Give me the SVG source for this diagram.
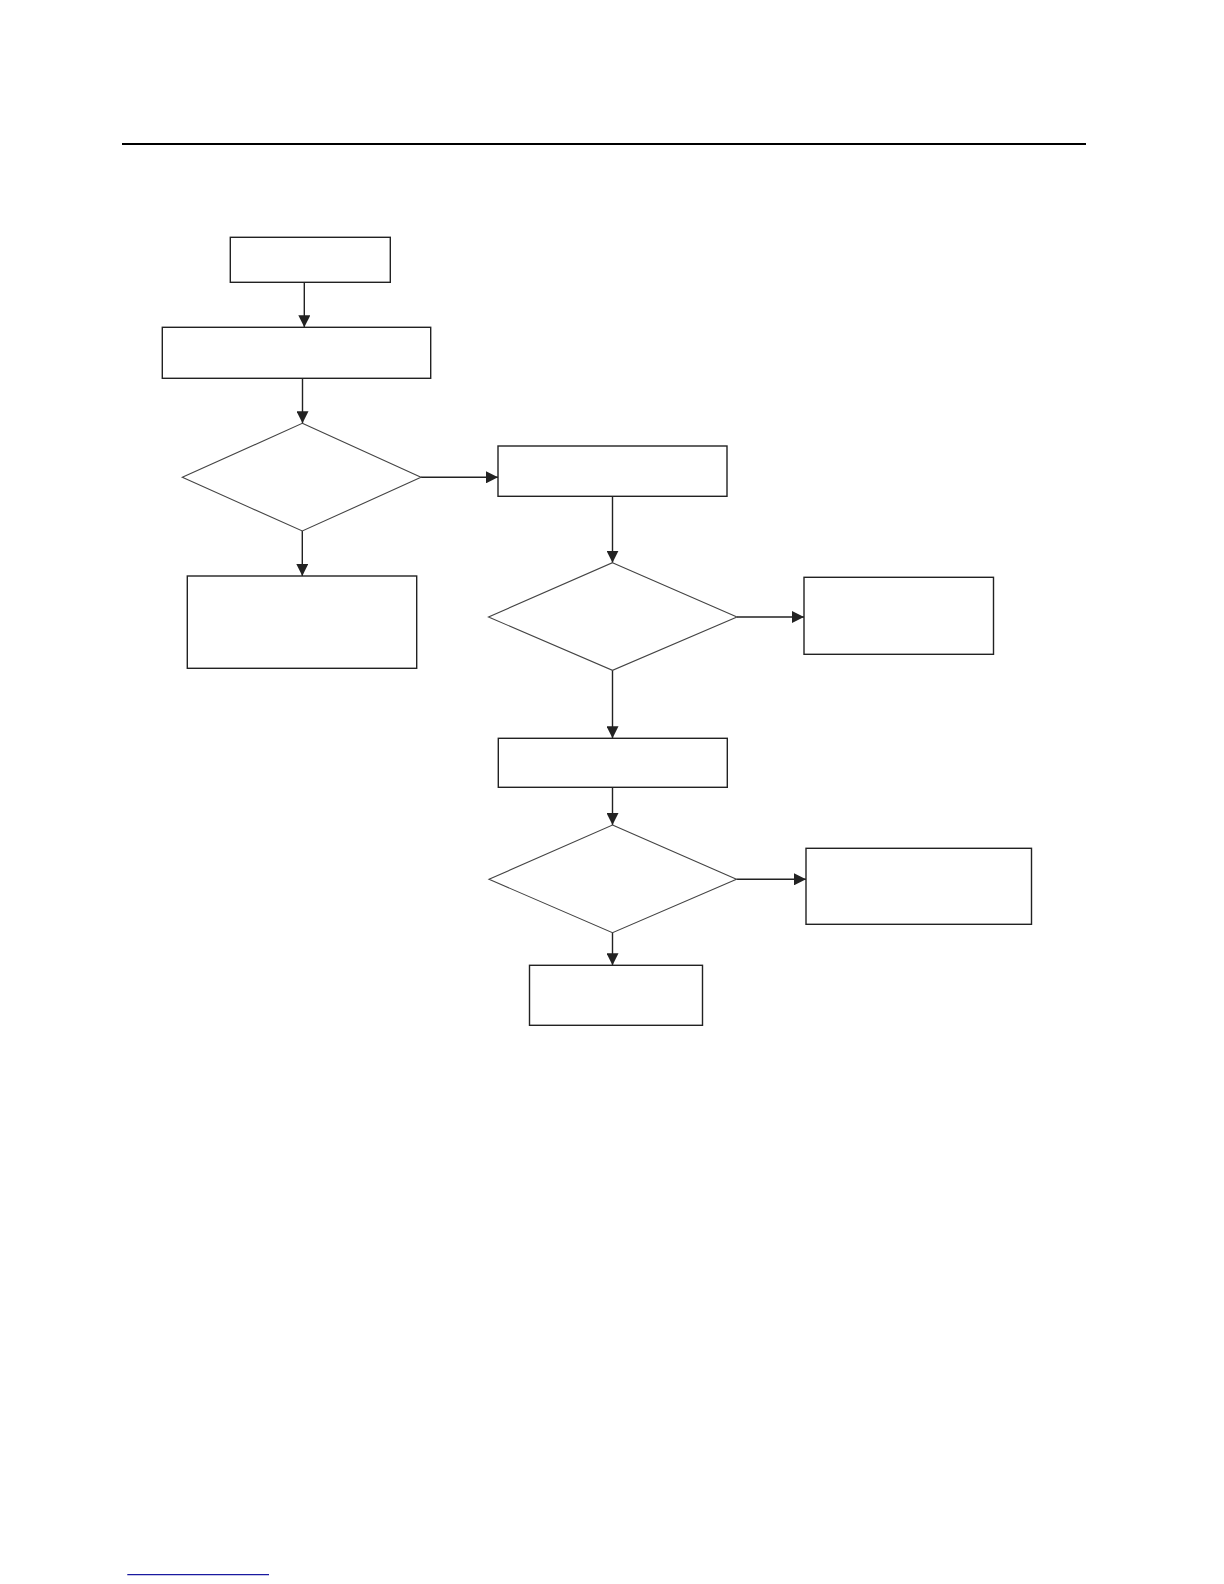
<svg xmlns="http://www.w3.org/2000/svg" width="1224" height="1584" viewBox="0 0 1224 1584">
<style>
.box{fill:#fff;stroke:#222;stroke-width:1.4}
.dia{fill:#fff;stroke:#444;stroke-width:1.1}
.con{stroke:#222;stroke-width:1.4;fill:none;marker-end:url(#ah)}
</style>
<defs>
<marker id="ah" markerUnits="userSpaceOnUse" markerWidth="13" markerHeight="12" refX="12" refY="6" orient="auto">
<path d="M0,0 L12,6 L0,12 Z" fill="#222"/>
</marker>
</defs>
<rect width="1224" height="1584" fill="#fff"/>
<line x1="122" y1="144" x2="1086" y2="144" stroke="#000" stroke-width="2.2"/>
<g id="connectors">
<line class="con" x1="304.3" y1="282.3" x2="304.3" y2="327.3"/>
<line class="con" x1="302.5" y1="378.3" x2="302.5" y2="423.3"/>
<line class="con" x1="421" y1="477.3" x2="498" y2="477.3"/>
<line class="con" x1="302.3" y1="531" x2="302.3" y2="576"/>
<line class="con" x1="612.5" y1="496.3" x2="612.5" y2="562.7"/>
<line class="con" x1="737" y1="617" x2="804" y2="617"/>
<line class="con" x1="612.5" y1="670.3" x2="612.5" y2="738.3"/>
<line class="con" x1="612.5" y1="787.3" x2="612.5" y2="825"/>
<line class="con" x1="736.5" y1="879.3" x2="806" y2="879.3"/>
<line class="con" x1="612.5" y1="932.7" x2="612.5" y2="965.3"/>
</g>
<g id="n1"><rect class="box" x="230.3" y="237.3" width="160" height="45"/></g>
<g id="n2"><rect class="box" x="162.3" y="327.3" width="268.4" height="51"/></g>
<g id="d1"><polygon class="dia" points="302.3,423.3 421,477.3 302.3,531 182.3,477.3"/></g>
<g id="n3"><rect class="box" x="187.3" y="576" width="229.4" height="92.3"/></g>
<g id="n4"><rect class="box" x="498" y="446" width="229" height="50.3"/></g>
<g id="d2"><polygon class="dia" points="612.5,562.7 737,617 612.5,670.3 488.5,617"/></g>
<g id="n5"><rect class="box" x="804" y="577.3" width="189.5" height="77"/></g>
<g id="n6"><rect class="box" x="498.3" y="738.3" width="229" height="49"/></g>
<g id="d3"><polygon class="dia" points="612.5,825 736.5,879.3 612.5,932.7 489,879.3"/></g>
<g id="n7"><rect class="box" x="806" y="848.3" width="225.5" height="76"/></g>
<g id="n8"><rect class="box" x="529.5" y="965.3" width="173" height="60"/></g>
<line x1="127.3" y1="1574.7" x2="269" y2="1574.7" stroke="#1a1aa0" stroke-width="1.2"/>
</svg>
